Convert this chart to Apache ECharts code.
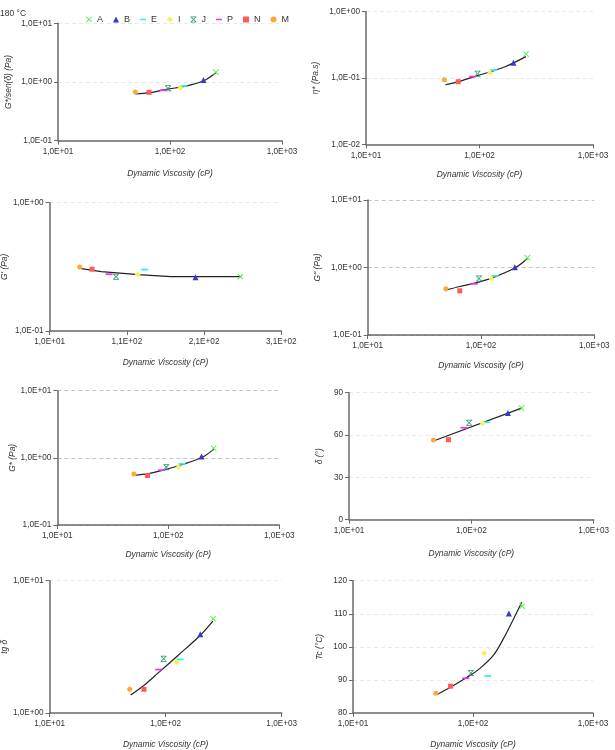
<!DOCTYPE html>
<html><head><meta charset="utf-8">
<script src="https://cdn.jsdelivr.net/npm/echarts@6/dist/echarts.min.js"></script>
<style>html,body{margin:0;padding:0;background:#fff}#c{width:615px;height:750px}</style>
</head><body><div id="c"></div>
<script>
// ---------------- DATA ----------------
const samples   = ['A','B','E','I','J','P','N','M'];
const viscosity = [257, 199, 133, 124, 96, 87, 65, 49];          // cP

const gStarSinDelta = [1.46, 1.08, 0.855, 0.79, 0.78, 0.722, 0.667, 0.675]; // Pa
const etaStar       = [0.23, 0.17, 0.132, 0.12, 0.116, 0.105, 0.088, 0.094]; // Pa.s
const gPrime        = [0.265, 0.262, 0.301, 0.277, 0.265, 0.277, 0.303, 0.315]; // Pa
const gDoublePrime  = [1.39, 1.01, 0.753, 0.68, 0.687, 0.573, 0.451, 0.483]; // Pa
const gStar         = [1.39, 1.05, 0.813, 0.73, 0.726, 0.655, 0.545, 0.577]; // Pa
const delta         = [79.1, 75.6, 69.0, 68.3, 68.7, 65.2, 56.7, 56.5];    // deg
const tgDelta       = [5.15, 3.94, 2.54, 2.42, 2.57, 2.13, 1.51, 1.51];
const tc            = [112.3, 110.1, 91.2, 98.1, 92.1, 90.5, 88.1, 86.0];  // degC

// trend lines
const trend1X = [49, 66, 93, 131, 198, 257];
const trend1Y = [0.625, 0.657, 0.751, 0.832, 1.04, 1.44];
const trend2X = [50, 65, 100, 168, 256];
const trend2Y = [0.079, 0.088, 0.111, 0.148, 0.21];
const trend3X = [51, 77, 125, 167, 258];
const trend3Y = [0.306, 0.290, 0.275, 0.265, 0.265];
const trend4X = [50, 65, 88, 124, 200, 257];
const trend4Y = [0.467, 0.523, 0.586, 0.695, 0.99, 1.36];
const trend5X = [49, 66.5, 90, 127, 200, 257];
const trend5Y = [0.551, 0.584, 0.655, 0.777, 1.01, 1.35];
const trend6X = [49, 257];
const trend6Y = [55.8, 79.1];
const trend7X = [50, 65.6, 86.3, 127.6, 199, 255];
const trend7Y = [1.37, 1.63, 2.01, 2.72, 3.87, 4.95];
const trend8X = [49.8, 66.5, 88.6, 114.3, 147.6, 178.9, 216.6, 254.7];
const trend8Y = [85.5, 88.0, 90.7, 93.5, 97.4, 102.4, 108.3, 113.5];

// ---------------- STYLE / LAYOUT ----------------
const X_PATH = 'path://M0,1L1,0L5,4L9,0L10,1L6,5L10,9L9,10L5,6L1,10L0,9L4,5Z';
const STAR_PATH = 'path://M0,1L1,0L5,4L9,0L10,1L6,5L10,9L9,10L5,6L1,10L0,9L4,5ZM0,0L10,0L10,1.3L0,1.3ZM0,8.7L10,8.7L10,10L0,10Z';
const DASH_PATH = 'path://M0,4L10,4L10,6.5L0,6.5Z';
const markers = {
  A:{symbol:X_PATH, size:6, color:'#3cf03c'},
  B:{symbol:'triangle', size:6, color:'#3838c8'},
  E:{symbol:DASH_PATH, size:[7,7], color:'#30f0f0'},
  I:{symbol:'diamond', size:6, color:'#f4f45a'},
  J:{symbol:STAR_PATH, size:6, color:'#2f9a70'},
  P:{symbol:DASH_PATH, size:[7,7], color:'#f030f0'},
  N:{symbol:'rect', size:5, color:'#ff5a5a'},
  M:{symbol:'circle', size:5, color:'#ffa838'}
};

const FONT = 'Liberation Sans, Arial, sans-serif';
const charts = [
  {vals:gStarSinDelta, tx:trend1X, ty:trend1Y, yType:'log', yMin:0.1, yMax:10, yName:'G*/sen(δ) (Pa)',
   grid:{left:58, top:23.3, width:224, height:117.4}, yGap:45, xGap:29, smooth:true},
  {vals:etaStar, tx:trend2X, ty:trend2Y, yType:'log', yMin:0.01, yMax:1, yName:'η* (Pa.s)',
   grid:{left:366, top:11.7, width:227, height:132.6}, yGap:46, xGap:26, smooth:true},
  {vals:gPrime, tx:trend3X, ty:trend3Y, yType:'log', yMin:0.1, yMax:1, yName:"G' (Pa)", xLinear:true,
   grid:{left:47.7, top:202.7, width:233.6, height:128.3}, yGap:37, xGap:28, smooth:false},
  {vals:gDoublePrime, tx:trend4X, ty:trend4Y, yType:'log', yMin:0.1, yMax:10, yName:"G'' (Pa)",
   grid:{left:367.7, top:200, width:226.6, height:135}, yGap:46, xGap:27, smooth:true, darkGrid:true},
  {vals:gStar, tx:trend5X, ty:trend5Y, yType:'log', yMin:0.1, yMax:10, yName:'G* (Pa)',
   grid:{left:57.3, top:390.7, width:222, height:134.3}, yGap:40, xGap:26, smooth:true, darkGrid:true},
  {vals:delta, tx:trend6X, ty:trend6Y, yType:'value', yMin:0, yMax:90, yInterval:30, yName:'δ (°)',
   grid:{left:349, top:392.7, width:244.7, height:127}, yGap:25, xGap:30, smooth:false},
  {vals:tgDelta, tx:trend7X, ty:trend7Y, yType:'log', yMin:1, yMax:10, yName:'tg δ',
   grid:{left:46.7, top:580.7, width:235, height:134.3}, yGap:35, xGap:28, smooth:true},
  {vals:tc, tx:trend8X, ty:trend8Y, yType:'value', yMin:80, yMax:120, yInterval:10, yName:'Tc (°C)',
   grid:{left:353, top:580.7, width:240, height:134.6}, yGap:29, xGap:28, smooth:true}
];

function sci(v){
  if (v <= 0) return '0';
  let e = Math.floor(Math.log10(v) + 1e-9);
  let m = v / Math.pow(10, e);
  if (Math.round(m*10)/10 >= 10) { e += 1; m = m/10; }
  const s = e < 0 ? '-' : '+';
  const a = Math.abs(e);
  return m.toFixed(1).replace('.', ',') + 'E' + s + (a < 10 ? '0' + a : a);
}

const axisLine = {show:true, lineStyle:{color:'#6a6a6a', width:1.5}};
const labelStyle = {color:'#333', fontSize:8.2, fontFamily:FONT};
const nameStyle = {color:'#333', fontSize:8.4, fontStyle:'italic', fontFamily:FONT};

const grids = [], xAxes = [], yAxes = [], series = [];
charts.forEach((c, k) => {
  grids.push(Object.assign({containLabel:false}, c.grid));
  const xa = {
    gridIndex:k, name:'Dynamic Viscosity (cP)', nameLocation:'middle', nameGap:c.xGap,
    nameTextStyle:nameStyle, axisLine:axisLine,
    axisTick:{show:true, length:4, lineStyle:{color:'#6a6a6a'}},
    axisLabel:Object.assign({margin:7, formatter:sci, showMinLabel:true, showMaxLabel:true}, labelStyle),
    splitLine:{show:false}, minorTick:{show:false}
  };
  if (c.xLinear) { Object.assign(xa, {type:'value', min:10, max:310, interval:100}); }
  else { Object.assign(xa, {type:'log', logBase:10, min:10, max:1000}); }
  xAxes.push(xa);
  const ya = {
    gridIndex:k, type:c.yType, min:c.yMin, max:c.yMax, name:c.yName, nameLocation:'middle',
    nameGap:c.yGap, nameRotate:90, nameTextStyle:nameStyle, axisLine:axisLine,
    axisTick:{show:true, length:4, lineStyle:{color:'#6a6a6a'}},
    axisLabel:Object.assign({margin:6, formatter: c.yType==='log' ? sci : (v => String(v)),
      showMinLabel:true, showMaxLabel:true}, labelStyle),
    splitLine:{show:true, lineStyle:{color: c.darkGrid ? '#c4c4c4' : '#e8e8e8', type:[4,3], width:1}}
  };
  if (c.yType === 'log') ya.logBase = 10;
  if (c.yInterval) ya.interval = c.yInterval;
  yAxes.push(ya);

  series.push({
    type:'line', name:'trend'+k, xAxisIndex:k, yAxisIndex:k,
    data:c.tx.map((x,i)=>[x, c.ty[i]]), smooth:c.smooth ? 0.35 : false,
    showSymbol:false, symbol:'none', lineStyle:{color:'#222', width:1.2}, z:2, silent:true
  });
  samples.forEach((s, i) => {
    const mk = markers[s];
    series.push({
      type:'scatter', name:s, xAxisIndex:k, yAxisIndex:k,
      data:[[viscosity[i], c.vals[i]]],
      symbol:mk.symbol, symbolSize:mk.size, symbolKeepAspect:true,
      itemStyle:{color:mk.color, opacity:1}, z:3
    });
  });
});

const chart = echarts.init(document.getElementById('c'), null, {renderer:'canvas'});
chart.setOption({
  animation:false,
  backgroundColor:'#fff',
  textStyle:{fontFamily:FONT},
  grid:grids, xAxis:xAxes, yAxis:yAxes, series:series,
  legend:{
    left:81, top:10, itemWidth:6, itemHeight:6, itemGap:10,
    textStyle:{color:'#333', fontSize:9, fontFamily:FONT},
    data:samples.map(s => ({name:s, icon:markers[s].symbol}))
  },
  graphic:[{type:'text', left:0, top:9, style:{text:'180 °C', fontSize:8.5, fill:'#333', fontFamily:FONT}}]
});
</script></body></html>
